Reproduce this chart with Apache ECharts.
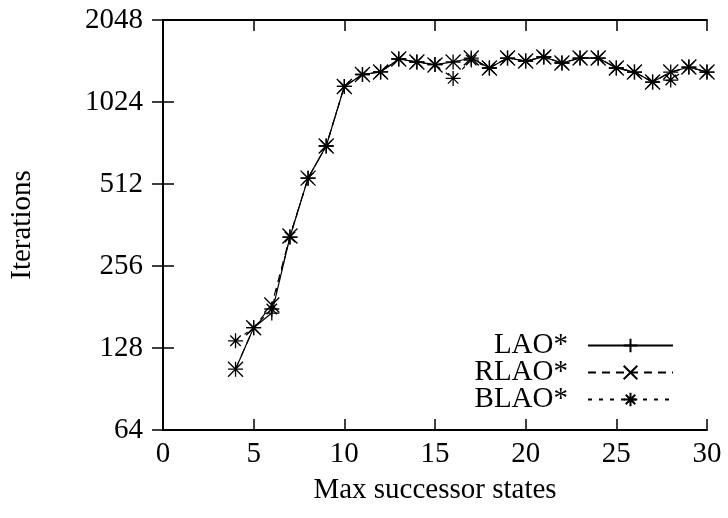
<!DOCTYPE html>
<html>
<head>
<meta charset="utf-8">
<script src="https://cdn.jsdelivr.net/npm/echarts@6/dist/echarts.min.js"></script>
<style>
html,body{margin:0;padding:0;background:#fff;}
#chart{width:728px;height:518px;}
</style>
</head>
<body>
<div id="chart"></div>
<script>
// Data
var xValues = [4,5,6,7,8,9,10,11,12,13,14,15,16,17,18,19,20,21,22,23,24,25,26,27,28,29,30];
var laoValues  = [107,152,172,327,538,706,1168,1292,1320,1473,1436,1405,1436,1485,1365,1485,1448,1498,1424,1485,1485,1365,1319,1212,1319,1376,1319];
var rlaoValues = [107,152,184,330,538,706,1168,1292,1320,1473,1436,1400,1436,1485,1365,1485,1448,1498,1424,1485,1485,1365,1319,1212,1319,1376,1319];
var blaoValues = [136,152,178,327,538,706,1168,1292,1320,1473,1436,1405,1250,1460,1365,1485,1448,1498,1424,1485,1485,1365,1319,1212,1233,1376,1319];
var seriesNames = ['LAO*','RLAO*','BLAO*'];
var xTicks = {min: 0, max: 30, interval: 5};
var yTicks = {min: 64, max: 2048};
var xName = 'Max successor states';
var yName = 'Iterations';

function pairs(xs, ys){ return xs.map(function(x,i){ return [x, ys[i]]; }); }

var FONT = 'Liberation Serif';
var PLUS = 'path://M0,5L10,5M5,0L5,10';
var CROSS = 'path://M0,0L10,10M0,10L10,0';
var STAR = 'path://M0,5L10,5M5,0L5,10M1.5,1.5L8.5,8.5M1.5,8.5L8.5,1.5';

var axisLine = {show: true, lineStyle: {color: '#000', width: 2}};
var tick = {show: true, inside: true, length: 11, lineStyle: {color: '#000', width: 1.5}};
var label = {color: '#000', fontFamily: FONT, fontSize: 29};

function mkSeries(name, data, symbol, dash) {
  return {
    name: name, type: 'line', data: data,
    symbol: symbol, symbolSize: 15, showAllSymbol: true,
    xAxisIndex: 0, yAxisIndex: 0,
    lineStyle: {color: '#000', width: 1.2, type: dash},
    itemStyle: {color: 'none', borderColor: '#000', borderWidth: 1.3},
    emphasis: {disabled: true},
    animation: false
  };
}

var chart = echarts.init(document.getElementById('chart'), null, {renderer: 'canvas'});
chart.setOption({
  backgroundColor: '#fff',
  animation: false,
  grid: {left: 162, right: 21, top: 20, bottom: 88, containLabel: false},
  xAxis: [
    {type: 'value', min: xTicks.min, max: xTicks.max, interval: xTicks.interval,
     position: 'bottom', axisLine: axisLine, axisTick: tick, splitLine: {show: false},
     axisLabel: Object.assign({margin: 10}, label),
     name: xName, nameLocation: 'middle', nameGap: 46,
     nameTextStyle: {color: '#000', fontFamily: FONT, fontSize: 29}},
    {type: 'value', min: xTicks.min, max: xTicks.max, interval: xTicks.interval,
     position: 'top', axisLine: axisLine, axisTick: tick, splitLine: {show: false},
     axisLabel: {show: false}}
  ],
  yAxis: [
    {type: 'log', logBase: 2, min: yTicks.min, max: yTicks.max,
     position: 'left', axisLine: axisLine, axisTick: tick, splitLine: {show: false},
     minorTick: {show: false},
     axisLabel: Object.assign({margin: 20, padding: [0, 0, 4, 0], formatter: function(v){ return String(Math.round(v)); }}, label),
     name: yName, nameLocation: 'middle', nameGap: 126, nameRotate: 90,
     nameTextStyle: {color: '#000', fontFamily: FONT, fontSize: 29}},
    {type: 'log', logBase: 2, min: yTicks.min, max: yTicks.max,
     position: 'right', axisLine: axisLine, axisTick: tick, splitLine: {show: false},
     axisLabel: {show: false}}
  ],
  legend: {
    orient: 'vertical', right: 49, top: 326, align: 'right',
    itemWidth: 85, itemHeight: 17, itemGap: -2,
    selectedMode: false,
    textStyle: {color: '#000', fontFamily: FONT, fontSize: 29, lineHeight: 27, padding: [0, 15, 0, 0]},
    data: seriesNames
  },
  series: [
    mkSeries(seriesNames[2], pairs(xValues, blaoValues), STAR, [4, 7]),
    mkSeries(seriesNames[1], pairs(xValues, rlaoValues), CROSS, [8, 6]),
    mkSeries(seriesNames[0], pairs(xValues, laoValues), PLUS, 'solid')
  ]
});
</script>
</body>
</html>
